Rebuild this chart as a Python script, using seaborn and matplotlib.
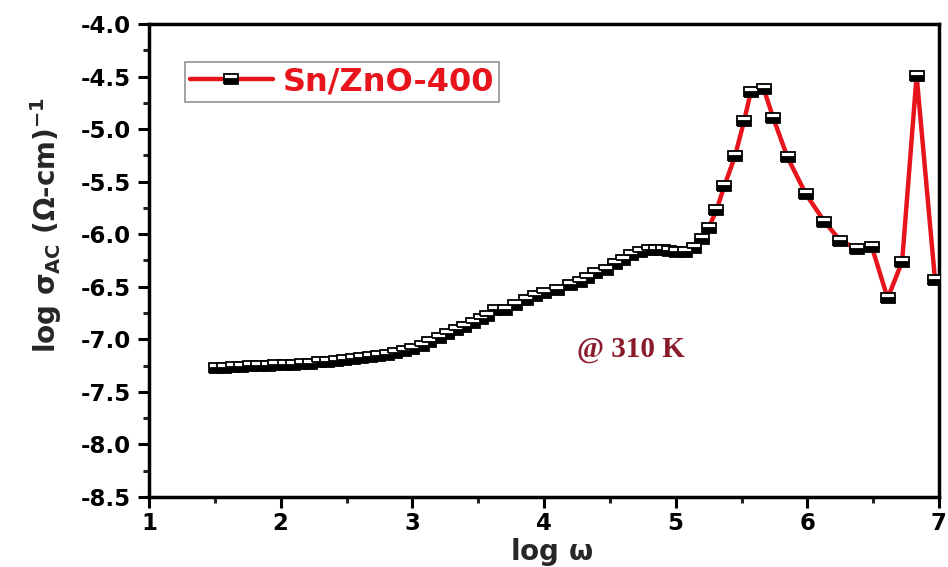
import matplotlib
matplotlib.use("Agg")
import matplotlib.pyplot as plt
from matplotlib.markers import MarkerStyle
from matplotlib.transforms import Affine2D
import seaborn as sns
import pandas as pd

log_omega = [1.51, 1.57, 1.64, 1.70, 1.77, 1.83, 1.90, 1.96, 2.03, 2.09,
             2.16, 2.22, 2.29, 2.35, 2.42, 2.48, 2.55, 2.61, 2.68, 2.74,
             2.81, 2.87, 2.94, 3.00, 3.07, 3.13, 3.20, 3.26, 3.33, 3.39,
             3.46, 3.52, 3.57, 3.63, 3.70, 3.78, 3.86, 3.93, 4.00, 4.10,
             4.20, 4.27, 4.33, 4.39, 4.47, 4.54, 4.60, 4.66, 4.73, 4.80,
             4.85, 4.90, 4.95, 5.00, 5.07,
             5.14, 5.20, 5.25, 5.31, 5.37, 5.45, 5.52, 5.57, 5.67, 5.74,
             5.85, 5.99, 6.13, 6.25, 6.38, 6.49, 6.61, 6.72, 6.83, 6.97]
log_sigma = [-7.27, -7.27, -7.26, -7.26, -7.25, -7.25, -7.25, -7.24, -7.24, -7.24,
             -7.23, -7.23, -7.22, -7.22, -7.21, -7.20, -7.19, -7.18, -7.17, -7.16,
             -7.15, -7.13, -7.11, -7.09, -7.06, -7.03, -6.99, -6.95, -6.91, -6.88,
             -6.84, -6.81, -6.78, -6.72, -6.72, -6.67, -6.63, -6.59, -6.56, -6.53,
             -6.48, -6.45, -6.42, -6.37, -6.34, -6.28, -6.25, -6.20, -6.17, -6.15,
             -6.15, -6.15, -6.16, -6.17, -6.17,
             -6.13, -6.05, -5.94, -5.77, -5.54, -5.26, -4.92, -4.65, -4.62, -4.89,
             -5.27, -5.62, -5.88, -6.06, -6.14, -6.12, -6.61, -6.26, -4.49, -6.44]
series_label = "Sn/ZnO-400"
annotation = "@ 310 K"
x_ticks = [1, 2, 3, 4, 5, 6, 7]
y_ticks = [-4.0, -4.5, -5.0, -5.5, -6.0, -6.5, -7.0, -7.5, -8.0, -8.5]

sns.set_style("white")
plt.rcParams["font.family"] = ["DejaVu Sans"]
plt.rcParams["font.weight"] = "bold"
plt.rcParams["mathtext.fontset"] = "custom"
plt.rcParams["mathtext.rm"] = "DejaVu Sans:bold"
plt.rcParams["mathtext.it"] = "DejaVu Sans:bold"
plt.rcParams["mathtext.bf"] = "DejaVu Sans:bold"

df = pd.DataFrame({"log_omega": log_omega, "log_sigma": log_sigma})

fig = plt.figure(figsize=(9.48, 5.67), dpi=100)
ax = fig.add_axes([149 / 948, 1 - 497 / 567, (939 - 149) / 948, (497 - 24) / 567])

half_square = MarkerStyle("s", fillstyle="bottom",
                          transform=Affine2D().scale(1.35, 1.0))

sns.lineplot(data=df, x="log_omega", y="log_sigma", ax=ax, color="#e8141b",
             linewidth=3.2, marker=half_square, markersize=7.3,
             markerfacecolor="black", markerfacecoloralt="white",
             markeredgecolor="black", markeredgewidth=1.3,
             label=series_label, zorder=3)

ax.set_xlim(1, 7)
ax.set_ylim(-8.5, -4.0)
ax.set_xticks(x_ticks)
ax.set_xticklabels([str(v) for v in x_ticks])
ax.set_yticks(y_ticks)
ax.set_yticklabels([f"{v:.1f}" for v in y_ticks])
ax.set_xticks([1.5, 2.5, 3.5, 4.5, 5.5, 6.5], minor=True)
ax.set_yticks([-4.25, -4.75, -5.25, -5.75, -6.25, -6.75, -7.25, -7.75, -8.25], minor=True)

for s in ax.spines.values():
    s.set_linewidth(2.5)
    s.set_color("black")
ax.tick_params(axis="both", which="major", direction="out", length=8, width=2.2,
               labelsize=16.5, colors="black", bottom=True, left=True)
ax.tick_params(axis="y", which="major", pad=5)
ax.tick_params(axis="x", which="major", pad=3)
ax.tick_params(axis="both", which="minor", direction="out", length=4, width=2.2,
               bottom=True, left=True)
for lab in ax.get_xticklabels() + ax.get_yticklabels():
    lab.set_fontweight("bold")

ax.set_xlabel(r"log $\omega$", fontsize=20, fontweight="bold")
ax.xaxis.set_label_coords(0.51, -0.082)
ax.set_ylabel(r"log $\sigma_{\rm AC}$ ($\Omega$-cm)$^{-1}$", fontsize=20,
              fontweight="bold")
ax.yaxis.set_label_coords(-0.108, 0.575)

ax.text(4.66, -7.1, annotation, color="#8b1a2a", fontsize=21, fontweight="bold",
        family="Liberation Serif", ha="center", va="center")

leg = ax.legend(loc="upper left", bbox_to_anchor=(0.0456, 0.92), borderaxespad=0,
                frameon=True, fancybox=False, edgecolor="#777777",
                handlelength=2.6, borderpad=0.15, handletextpad=0.3,
                prop={"size": 23, "weight": "bold"})
leg.get_frame().set_linewidth(1.2)
for t in leg.get_texts():
    t.set_color("#e8141b")

fig.savefig("out.png", dpi=100)
